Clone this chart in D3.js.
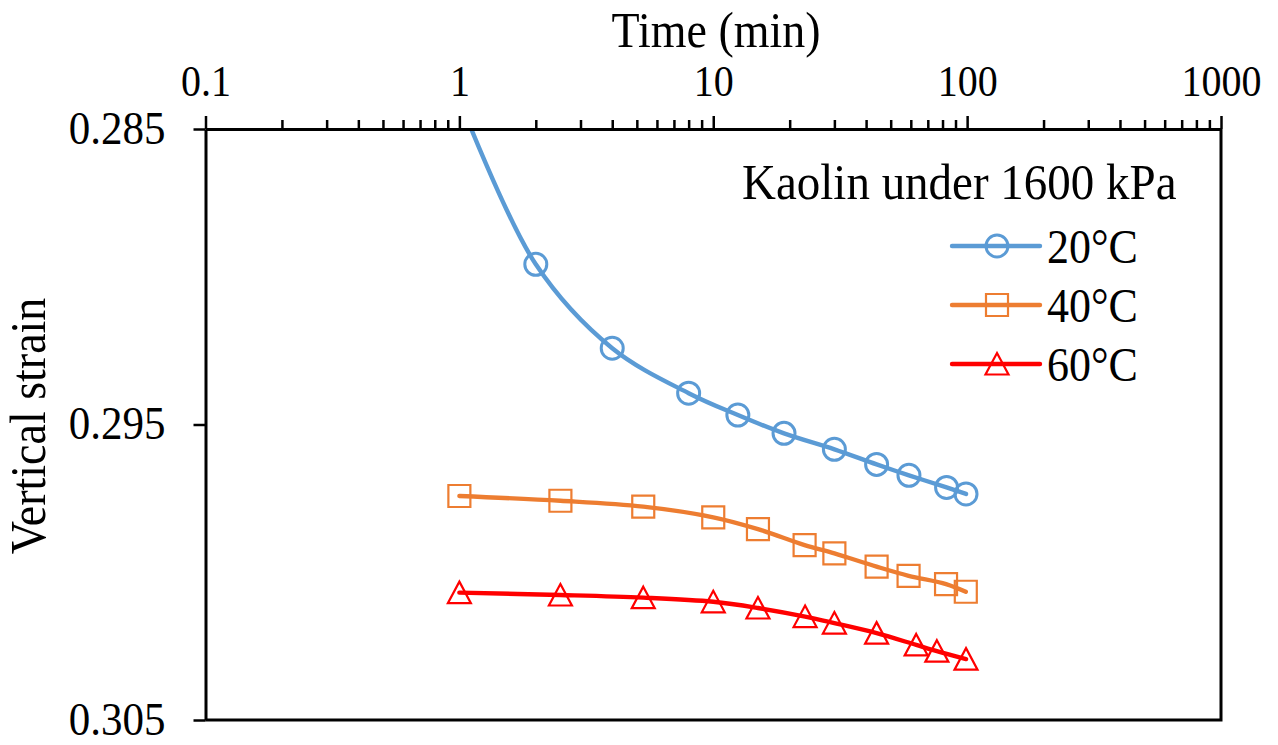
<!DOCTYPE html>
<html>
<head>
<meta charset="utf-8">
<style>
  body { margin: 0; background: #fff; }
  svg text { font-family: "Liberation Serif", "Times New Roman", serif; fill: #000; }
</style>
</head>
<body>
<script src="https://cdn.jsdelivr.net/npm/d3@7/dist/d3.min.js"></script>
<div id="chart"></div>
<script>
  // data (time in min, vertical strain)
  var times20 = [1, 2, 4, 8, 12.5, 19, 30, 44, 59, 83, 99];
  var strain20 = [0.2840, 0.28958, 0.29242, 0.29394, 0.29468, 0.29530, 0.29584, 0.29635, 0.29672, 0.29713, 0.29735];

  var times40 = [1, 2.5, 5.3, 10, 15, 22.9, 30, 44, 58.8, 82.6, 98.8];
  var strain40 = [0.29742, 0.29758, 0.29778, 0.29814, 0.29854, 0.29908, 0.29936, 0.29981, 0.30012, 0.30040, 0.30066];

  var times60 = [1, 2.5, 5.3, 10, 15, 23, 30, 44, 63, 76, 99];
  var strain60 = [0.30069, 0.30077, 0.30086, 0.30100, 0.30121, 0.30150, 0.30172, 0.30206, 0.30246, 0.30267, 0.30294];

  var seriesNames = ["20\u00B0C", "40\u00B0C", "60\u00B0C"];
  var xTicks = [0.1, 1, 10, 100, 1000];
  var yTicks = [0.285, 0.295, 0.305];
  var legendTitle = "Kaolin under 1600 kPa";

  // styles
  var colors = ["#5B9BD5", "#ED7D31", "#FF0000"];
  var shapes = ["circle", "square", "triangle"];
  var SY = 1.1; // the source text is a little taller than wide

  var W = 1278, H = 745;
  var plotL = 205.5, plotR = 1221, plotT = 129, plotB = 720;

  var svg = d3.select("#chart").append("svg")
      .attr("width", W)
      .attr("height", H);

  var x = d3.scaleLog().domain([0.1, 1000]).range([plotL, plotR]);
  var y = d3.scaleLinear().domain([0.285, 0.305]).range([plotT, plotB]);

  function tall(sel, tx, ty) {
    sel.attr("x", 0).attr("y", 0).attr("dy", null)
       .attr("transform", "translate(" + tx + "," + ty + ") scale(1," + SY + ")");
  }

  var series = [
    {name: seriesNames[0], t: times20, v: strain20},
    {name: seriesNames[1], t: times40, v: strain40},
    {name: seriesNames[2], t: times60, v: strain60}
  ].map(function(s, i) {
    return {
      name: s.name, color: colors[i], shape: shapes[i],
      pts: s.t.map(function(t, j) { return {t: t, v: s.v[j]}; })
    };
  });

  svg.append("clipPath").attr("id", "plotclip")
    .append("rect")
      .attr("x", plotL).attr("y", plotT)
      .attr("width", plotR - plotL).attr("height", plotB - plotT);

  // marker path generator
  function marker(shape) {
    if (shape == "circle") return d3.arc()({innerRadius: 0, outerRadius: 11, startAngle: 0, endAngle: 2 * Math.PI});
    if (shape == "square") return "M-11,-11H11V11H-11Z";
    return "M0,-11L11.5,10.5H-11.5Z";
  }

  var line = d3.line()
      .x(function(d) { return x(d.t); })
      .y(function(d) { return y(d.v); })
      .curve(d3.curveCatmullRom.alpha(0.5));

  var plot = svg.append("g").attr("clip-path", "url(#plotclip)");

  series.forEach(function(s) {
    plot.append("path")
      .datum(s.pts)
      .attr("d", line)
      .attr("fill", "none")
      .attr("stroke", s.color)
      .attr("stroke-width", 4.4)
      .attr("stroke-linecap", "round");

    plot.selectAll(null).data(s.pts).enter().append("path")
      .attr("transform", function(d) { return "translate(" + x(d.t) + "," + y(d.v) + ")"; })
      .attr("d", marker(s.shape))
      .attr("fill", "none")
      .attr("stroke", s.color)
      .attr("stroke-width", s.shape == "circle" ? 3 : 2.2);
  });

  // top x axis: major + minor ticks
  var minor = [];
  for (var e = -1; e < 3; e++) {
    for (var k = 2; k < 10; k++) minor.push(k * Math.pow(10, e));
  }

  var xMinor = svg.append("g")
      .attr("transform", "translate(0," + plotT + ")")
      .call(d3.axisTop(x).tickValues(minor).tickSize(9).tickSizeOuter(0).tickFormat(""));
  xMinor.select(".domain").remove();
  xMinor.selectAll("line").attr("stroke", "#000").attr("stroke-width", 2.5);

  var xAxis = svg.append("g")
      .attr("transform", "translate(0," + plotT + ")")
      .call(d3.axisTop(x).tickValues(xTicks).tickSize(13).tickSizeOuter(0)
        .tickFormat(function(d) { return d < 1 ? "0.1" : d3.format("d")(d); }));
  xAxis.select(".domain").attr("stroke", "#000").attr("stroke-width", 3);
  xAxis.selectAll("line").attr("stroke", "#000").attr("stroke-width", 2.5);
  xAxis.selectAll("text")
      .style("font-size", "40px")
      .call(tall, 0, -33);

  // left y axis
  var yAxis = svg.append("g")
      .attr("transform", "translate(" + plotL + ",0)")
      .call(d3.axisLeft(y).tickValues(yTicks).tickSize(12).tickSizeOuter(0)
        .tickFormat(d3.format(".3f")));
  yAxis.select(".domain").attr("stroke", "#000").attr("stroke-width", 3);
  yAxis.selectAll("line").attr("stroke", "#000").attr("stroke-width", 2.5);
  yAxis.selectAll("text")
      .style("font-size", "43px")
      .call(tall, -40, 14);

  // right and bottom frame
  svg.append("path")
    .attr("d", "M" + plotL + "," + plotB + "H" + plotR + "V" + plotT)
    .attr("fill", "none")
    .attr("stroke", "#000")
    .attr("stroke-width", 3);

  // axis titles
  svg.append("text")
    .attr("text-anchor", "middle")
    .style("font-size", "46px")
    .text("Time (min)")
    .call(tall, 716, 47);

  svg.append("text")
    .attr("text-anchor", "middle")
    .style("font-size", "46px")
    .text("Vertical strain")
    .attr("transform", "translate(45,426) rotate(-90) scale(1," + SY + ")");

  // legend
  svg.append("text")
    .style("font-size", "47px")
    .text(legendTitle)
    .call(tall, 742, 199);

  var leg = svg.selectAll(".leg").data(series).enter().append("g")
      .attr("class", "leg")
      .attr("transform", function(d, i) { return "translate(0," + (246 + i * 59) + ")"; });

  leg.append("line")
    .attr("x1", 952).attr("x2", 1040)
    .attr("stroke", function(d) { return d.color; })
    .attr("stroke-width", 4.4)
    .attr("stroke-linecap", "round");

  leg.append("path")
    .attr("transform", "translate(997,0)")
    .attr("d", function(d) { return marker(d.shape); })
    .attr("fill", "none")
    .attr("stroke", function(d) { return d.color; })
    .attr("stroke-width", function(d) { return d.shape == "circle" ? 3 : 2.2; });

  leg.append("text")
    .style("font-size", "44px")
    .text(function(d) { return d.name; })
    .call(tall, 1047, 17);
</script>
</body>
</html>
